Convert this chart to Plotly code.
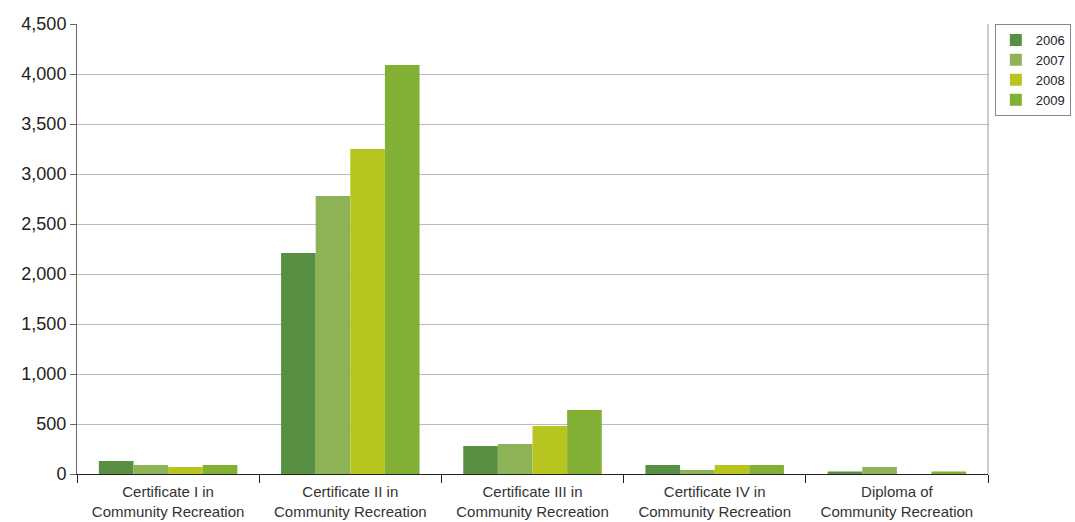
import plotly.graph_objects as go

categories = ["Certificate I in<br>Community Recreation",
              "Certificate II in<br>Community Recreation",
              "Certificate III in<br>Community Recreation",
              "Certificate IV in<br>Community Recreation",
              "Diploma of<br>Community Recreation"]
years = ["2006", "2007", "2008", "2009"]
v2006 = [130, 2210, 280, 90, 25]
v2007 = [90, 2780, 300, 40, 70]
v2008 = [70, 3250, 480, 90, 0]
v2009 = [90, 4090, 640, 90, 25]
colors = ["#578F43", "#8EB356", "#B8C41F", "#82B034"]

fig = go.Figure()
for name, vals, c in zip(years, [v2006, v2007, v2008, v2009], colors):
    fig.add_trace(go.Bar(x=categories, y=vals, name=name, marker=dict(color=c, line=dict(width=0))))

fig.update_layout(
    width=1075, height=522,
    margin=dict(l=77, r=87, t=24, b=48, autoexpand=False),
    plot_bgcolor="white", paper_bgcolor="white",
    barmode="group", bargap=0.24, bargroupgap=0,
    font=dict(family="Liberation Sans, Arial, sans-serif", color="#222"),
    showlegend=True,
    legend=dict(x=1.0075, y=1.0, xanchor="left", yanchor="top",
                bordercolor="#888", borderwidth=1, bgcolor="white",
                font=dict(size=13), tracegroupgap=0, itemwidth=30),
    xaxis=dict(type="category", tickson="boundaries", ticks="outside", ticklen=8,
               tickcolor="#222", showline=True, linecolor="#222", linewidth=1,
               showgrid=False, tickfont=dict(size=15, color="#333"),
               range=[-0.5, 4.5], automargin=False, ticklabelstandoff=4),
    yaxis=dict(range=[0, 4500], dtick=500, tickformat=",", ticks="outside", ticklen=6,
               tickcolor="#666", showline=True, linecolor="#666", linewidth=1,
               showgrid=True, gridcolor="#BBBBBB", gridwidth=1, automargin=False,
               tickfont=dict(size=18, color="#222"), zeroline=False),
)
fig.add_shape(type="line", xref="paper", yref="paper", x0=1, x1=1, y0=0, y1=1,
              line=dict(color="#999", width=1))
fig.write_html("out.html")
